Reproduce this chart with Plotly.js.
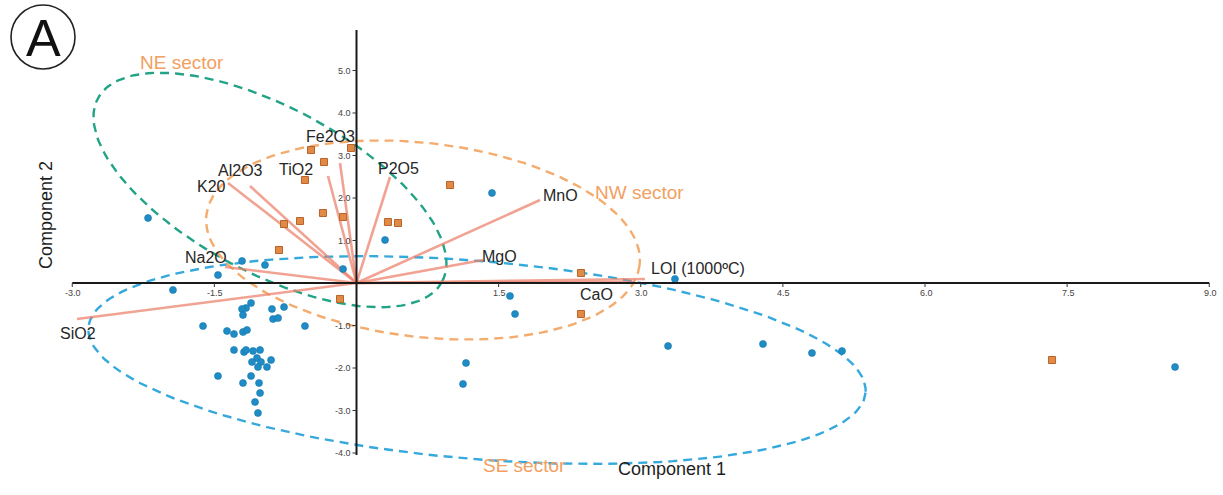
<!DOCTYPE html>
<html>
<head>
<meta charset="utf-8">
<script src="https://cdn.plot.ly/plotly-3.0.1.min.js"></script>
<style>
  html, body { margin: 0; padding: 0; background: #fff; }
  #chart { width: 1223px; height: 495px; }
</style>
</head>
<body>
<div id="chart"></div>
<script>
// ---- PCA scores: component 1 (x) and component 2 (y) ----
const blueSamplesX = [-2.200, -1.208, -0.966, -1.462, -1.937, -0.142, 0.301, 1.430, 3.361, 1.620,
  1.673, 1.156, 1.124, 3.288, 4.290, 4.807, 5.124, 8.639,
  -1.113, -1.166, -1.208, -1.198, -0.892, -0.765, -0.881, -0.828, -1.620, -0.544,
  -1.367, -1.293, -1.198, -1.156, -1.293, -1.187, -1.166, -1.092, -1.018, -1.050,
  -1.103, -1.008, -0.902, -1.040, -0.945, -1.462, -1.113, -1.198, -1.029, -1.018,
  -1.071, -1.040];
const blueSamplesY = [1.529, 0.518, 0.424, 0.188, -0.165, 0.329, 1.012, 2.118, 0.094, -0.306,
  -0.729, -1.882, -2.376, -1.482, -1.435, -1.647, -1.600, -1.976,
  -0.471, -0.588, -0.612, -0.753, -0.612, -0.565, -0.847, -0.824, -1.012, -1.012,
  -1.129, -1.200, -1.153, -1.106, -1.576, -1.624, -1.576, -1.600, -1.576, -1.765,
  -1.859, -1.859, -1.812, -1.976, -1.976, -2.188, -2.188, -2.353, -2.353, -2.588,
  -2.800, -3.059];

const orangeSamplesX = [-0.058, -0.480, -0.343, -0.544, -0.354, -0.142, -0.765, -0.596, -0.818,
  0.332, 0.438, 0.987, 2.369, 2.369, -0.174, 7.341];
const orangeSamplesY = [3.176, 3.129, 2.847, 2.424, 1.647, 1.553, 1.388, 1.459, 0.776,
  1.435, 1.412, 2.306, 0.235, -0.729, -0.376, -1.812];

// ---- Variable loadings (biplot vectors) ----
const variableNames = ['K20', 'Al2O3', 'TiO2', 'Fe2O3', 'P2O5', 'MnO', 'MgO', 'LOI (1000ºC)', 'CaO', 'Na2O', 'SiO2'];
const loadingX = [-1.356, -1.124, -0.301, -0.174, 0.354, 1.937, 1.335, 3.044, 2.939, -1.388, -2.950];
const loadingY = [2.353, 2.282, 2.518, 2.824, 2.494, 1.953, 0.541, 0.094, 0.020, 0.376, -0.847];

// ---- Sector ellipses: centre and two conjugate half-axes (data units) ----
const sectorNames = ['SE sector', 'NE sector', 'NW sector'];
const ellipseCentreX = [1.272, -0.913, 0.702];
const ellipseCentreY = [-1.812, 2.188, 1.012];
const ellipseAxisUX = [4.101, 1.817, 2.286];
const ellipseAxisUY = [-0.767, -2.153, -0.589];
const ellipseAxisVX = [-0.087, -0.411, -0.118];
const ellipseAxisVY = [-2.321, -1.725, -2.267];

// ---- Axis ticks ----
const xTickValues = [-3, -1.5, 1.5, 3, 4.5, 6, 7.5, 9];
const xTickLabels = ['-3.0', '-1.5', '1.5', '3.0', '4.5', '6.0', '7.5', '9.0'];
const yTickValues = [5, 4, 3, 2, 1, -1, -2, -3, -4];
const yTickLabels = ['5.0', '4.0', '3.0', '2.0', '1.0', '-1.0', '-2.0', '-3.0', '-4.0'];

// ---- Styling ----
const W = 1223, H = 495;
const FONT = 'Liberation Sans, Arial, Helvetica, sans-serif';
const NARROW = 'Liberation Sans Narrow, Liberation Sans, Arial, sans-serif';
const ellipseColors = ['#35a9dc', '#23a386', '#f4ac6e'];
const sectorLabelColor = '#f2a062';
const loadingColor = 'rgba(236,128,106,0.72)';
// label offsets (px) from each vector tip
const labelShiftX = [-17, -10, -32, -10, 8, 20, 17, 53, -38, -19, 1];
const labelShiftY = [-3, 16, 6, 26, 9, 5, 4, 11, -12, 10, -14];
// sector label anchor points (px in page)
const sectorLabelPx = [[524, 465], [182, 62], [639, 192]];

const xRange = [-356.5 / 94.75, (W - 356.5) / 94.75];
const yRange = [(283 - H) / 42.5, 283 / 42.5];
const px = v => v / W;
const py = v => 1 - v / H;

const traces = [];

// sector ellipses
const steps = 160;
for (let k = 0; k < sectorNames.length; k++) {
  const ex = [], ey = [];
  for (let i = 0; i <= steps; i++) {
    const t = 2 * Math.PI * i / steps;
    ex.push(ellipseCentreX[k] + ellipseAxisUX[k] * Math.cos(t) + ellipseAxisVX[k] * Math.sin(t));
    ey.push(ellipseCentreY[k] + ellipseAxisUY[k] * Math.cos(t) + ellipseAxisVY[k] * Math.sin(t));
  }
  traces.push({
    x: ex, y: ey, type: 'scatter', mode: 'lines', hoverinfo: 'skip',
    line: { color: ellipseColors[k], width: 2.4, dash: '9px,6px' }
  });
}

// loading vectors
const vx = [], vy = [];
loadingX.forEach((lx, i) => { vx.push(0, lx, null); vy.push(0, loadingY[i], null); });
traces.push({
  x: vx, y: vy, type: 'scatter', mode: 'lines', hoverinfo: 'skip',
  line: { color: loadingColor, width: 2.6 }
});

// sample scores
traces.push({
  x: orangeSamplesX, y: orangeSamplesY, type: 'scatter', mode: 'markers',
  marker: { symbol: 'square', size: 7, color: '#e08a45', line: { color: '#b8642a', width: 1 } }
});
traces.push({
  x: blueSamplesX, y: blueSamplesY, type: 'scatter', mode: 'markers',
  marker: { symbol: 'circle', size: 7, color: '#1f8cc6', line: { color: '#1677ad', width: 0.6 } }
});

const shapes = [
  // axes through the origin
  { type: 'line', xref: 'x', yref: 'y', x0: -3.0, x1: 9.0, y0: 0, y1: 0,
    line: { color: '#1a1a1a', width: 2 }, layer: 'above' },
  { type: 'line', xref: 'x', yref: 'y', x0: 0, x1: 0, y0: -4.05, y1: 5.95,
    line: { color: '#1a1a1a', width: 2 }, layer: 'above' },
  // panel badge
  { type: 'circle', xref: 'paper', yref: 'paper', x0: px(11), x1: px(75), y0: py(69), y1: py(5),
    line: { color: '#222', width: 1.6 } }
];
xTickValues.forEach(v => shapes.push({
  type: 'line', xref: 'x', yref: 'y', ysizemode: 'pixel', yanchor: 0,
  x0: v, x1: v, y0: -4, y1: 0, line: { color: '#333', width: 1 }, layer: 'above'
}));
yTickValues.forEach(v => shapes.push({
  type: 'line', xref: 'x', yref: 'y', xsizemode: 'pixel', xanchor: 0,
  x0: -4, x1: 0, y0: v, y1: v, line: { color: '#333', width: 1 }, layer: 'above'
}));

const annotations = [];
xTickValues.forEach((v, i) => annotations.push({
  x: v, y: 0, xref: 'x', yref: 'y', text: xTickLabels[i], showarrow: false,
  xanchor: 'center', yanchor: 'top', yshift: -3, xshift: 1,
  font: { family: NARROW, size: 9, color: '#444' }
}));
yTickValues.forEach((v, i) => annotations.push({
  x: 0, y: v, xref: 'x', yref: 'y', text: yTickLabels[i], showarrow: false,
  xanchor: 'right', yanchor: 'middle', xshift: -4,
  font: { family: NARROW, size: 9, color: '#444' }
}));
variableNames.forEach((name, i) => annotations.push({
  x: loadingX[i], y: loadingY[i], xref: 'x', yref: 'y', text: name, showarrow: false,
  xanchor: 'center', yanchor: 'middle', xshift: labelShiftX[i], yshift: labelShiftY[i],
  font: { family: FONT, size: 16, color: '#262626' }
}));
sectorNames.forEach((name, k) => annotations.push({
  x: px(sectorLabelPx[k][0]), y: py(sectorLabelPx[k][1]), xref: 'paper', yref: 'paper',
  text: name, showarrow: false, xanchor: 'center', yanchor: 'middle',
  font: { family: FONT, size: 19, color: sectorLabelColor }
}));
annotations.push(
  { x: px(672), y: py(469), xref: 'paper', yref: 'paper', text: 'Component 1', showarrow: false,
    xanchor: 'center', yanchor: 'middle', font: { family: FONT, size: 18, color: '#1e1e1e' } },
  { x: px(46), y: py(215), xref: 'paper', yref: 'paper', text: 'Component 2', showarrow: false,
    textangle: -90, xanchor: 'center', yanchor: 'middle', font: { family: FONT, size: 18, color: '#1e1e1e' } },
  { x: px(43), y: py(38), xref: 'paper', yref: 'paper', text: 'A', showarrow: false,
    xanchor: 'center', yanchor: 'middle', font: { family: FONT, size: 52, color: '#111' } }
);

const layout = {
  width: W, height: H,
  margin: { l: 0, r: 0, t: 0, b: 0, pad: 0 },
  paper_bgcolor: '#ffffff', plot_bgcolor: '#ffffff',
  showlegend: false,
  xaxis: { range: xRange, visible: false, fixedrange: true },
  yaxis: { range: yRange, visible: false, fixedrange: true },
  shapes: shapes,
  annotations: annotations
};

Plotly.newPlot('chart', traces, layout, { staticPlot: true, displayModeBar: false });
</script>
</body>
</html>
